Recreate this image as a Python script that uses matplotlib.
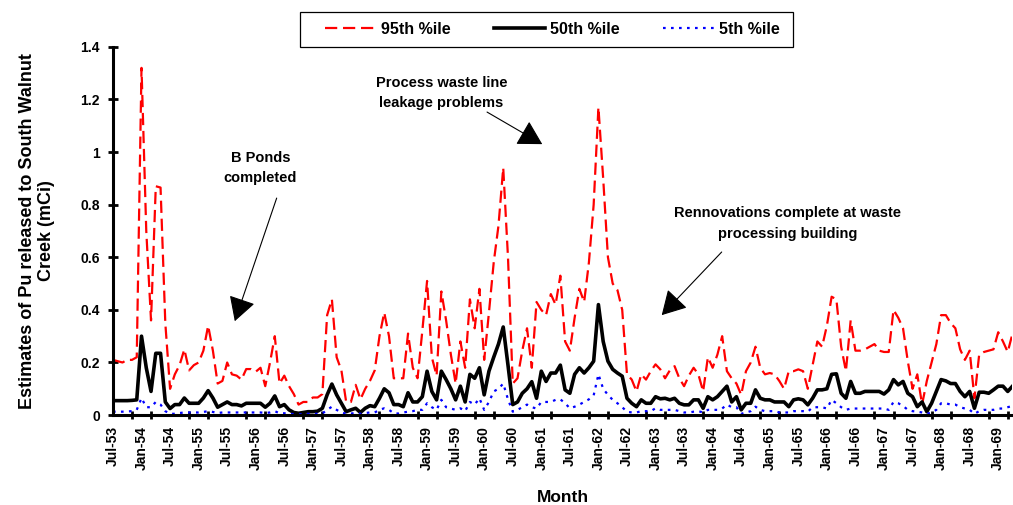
import matplotlib
matplotlib.use("Agg")
import matplotlib.pyplot as plt
from matplotlib.patches import Rectangle
import numpy as np
import pandas as pd

plt.rcParams['font.family'] = ['Liberation Sans', 'DejaVu Sans']
plt.rcParams['font.weight'] = 'bold'

# monthly estimates, Jul-53 .. Apr-69
p95 = [0.21, 0.205, 0.20, 0.21, 0.21, 0.22, 1.32, 0.70, 0.36, 0.87,
       0.865, 0.35, 0.10, 0.155, 0.19, 0.25, 0.17, 0.19, 0.20, 0.245,
       0.34, 0.245, 0.12, 0.13, 0.20, 0.155, 0.15, 0.135, 0.175, 0.175,
       0.165, 0.18, 0.11, 0.20, 0.30, 0.12, 0.15, 0.11, 0.08, 0.04,
       0.05, 0.05, 0.067, 0.067, 0.08, 0.38, 0.44, 0.22, 0.17, 0.05,
       0.05, 0.115, 0.06, 0.10, 0.13, 0.17, 0.30, 0.39, 0.30, 0.14,
       0.14, 0.14, 0.31, 0.18, 0.14, 0.32, 0.51, 0.22, 0.15, 0.47,
       0.36, 0.23, 0.12, 0.28, 0.18, 0.44, 0.33, 0.48, 0.21, 0.39,
       0.58, 0.72, 0.94, 0.60, 0.12, 0.14, 0.245, 0.33, 0.18, 0.43,
       0.40, 0.38, 0.46, 0.42, 0.53, 0.28, 0.245, 0.37, 0.48, 0.43,
       0.58, 0.80, 1.17, 0.90, 0.60, 0.50, 0.475, 0.40, 0.155, 0.135,
       0.09, 0.155, 0.135, 0.167, 0.193, 0.174, 0.14, 0.17, 0.186, 0.14,
       0.11, 0.15, 0.18, 0.155, 0.09, 0.22, 0.18, 0.23, 0.30, 0.167,
       0.14, 0.12, 0.077, 0.167, 0.20, 0.26, 0.18, 0.155, 0.16, 0.155,
       0.13, 0.10, 0.167, 0.167, 0.174, 0.167, 0.10, 0.19, 0.28, 0.26,
       0.34, 0.45, 0.44, 0.26, 0.167, 0.36, 0.245, 0.245, 0.25, 0.26,
       0.27, 0.245, 0.24, 0.24, 0.40, 0.37, 0.33, 0.205, 0.10, 0.155,
       0.04, 0.13, 0.20, 0.27, 0.38, 0.38, 0.35, 0.33, 0.25, 0.21,
       0.245, 0.064, 0.23, 0.24, 0.245, 0.25, 0.315, 0.28, 0.24, 0.31]

p50 = [0.055, 0.055, 0.055, 0.055, 0.056, 0.058, 0.30, 0.18, 0.09, 0.235,
       0.235, 0.05, 0.025, 0.04, 0.04, 0.065, 0.045, 0.045, 0.045, 0.065,
       0.093, 0.065, 0.03, 0.04, 0.05, 0.04, 0.04, 0.035, 0.045, 0.045,
       0.045, 0.045, 0.03, 0.045, 0.073, 0.032, 0.04, 0.02, 0.01, 0.007,
       0.01, 0.013, 0.013, 0.015, 0.026, 0.077, 0.118, 0.077, 0.045, 0.013,
       0.02, 0.026, 0.01, 0.026, 0.036, 0.032, 0.064, 0.10, 0.085, 0.04,
       0.04, 0.032, 0.085, 0.05, 0.05, 0.07, 0.167, 0.09, 0.058, 0.167,
       0.135, 0.10, 0.058, 0.11, 0.05, 0.155, 0.14, 0.18, 0.077, 0.167,
       0.22, 0.27, 0.335, 0.19, 0.04, 0.05, 0.083, 0.10, 0.127, 0.064,
       0.167, 0.128, 0.16, 0.16, 0.19, 0.096, 0.083, 0.155, 0.18, 0.16,
       0.18, 0.205, 0.42, 0.28, 0.205, 0.174, 0.16, 0.148, 0.064, 0.045,
       0.032, 0.058, 0.045, 0.045, 0.07, 0.062, 0.064, 0.058, 0.064, 0.045,
       0.039, 0.039, 0.058, 0.058, 0.026, 0.07, 0.058, 0.07, 0.09, 0.11,
       0.05, 0.07, 0.02, 0.045, 0.045, 0.096, 0.064, 0.058, 0.058, 0.05,
       0.05, 0.05, 0.032, 0.058, 0.062, 0.058, 0.039, 0.064, 0.096, 0.096,
       0.10, 0.155, 0.157, 0.083, 0.064, 0.128, 0.083, 0.083, 0.09, 0.09,
       0.09, 0.09, 0.08, 0.096, 0.135, 0.115, 0.128, 0.083, 0.07, 0.032,
       0.05, 0.013, 0.045, 0.09, 0.135, 0.13, 0.12, 0.12, 0.09, 0.07,
       0.09, 0.026, 0.087, 0.087, 0.083, 0.096, 0.11, 0.11, 0.09, 0.11]

p5 = [0.013, 0.013, 0.013, 0.014, 0.015, 0.02, 0.065, 0.03, 0.03, 0.05,
      0.04, 0.015, 0.005, 0.005, 0.008, 0.01, 0.01, 0.01, 0.01, 0.012,
      0.015, 0.012, 0.008, 0.01, 0.01, 0.01, 0.01, 0.01, 0.01, 0.01,
      0.01, 0.01, 0.008, 0.01, 0.015, 0.007, 0.007, 0.005, 0.004, 0.003,
      0.004, 0.005, 0.005, 0.005, 0.006, 0.02, 0.032, 0.02, 0.01, 0.005,
      0.006, 0.008, 0.005, 0.008, 0.01, 0.01, 0.02, 0.026, 0.02, 0.007,
      0.006, 0.01, 0.013, 0.015, 0.02, 0.02, 0.045, 0.03, 0.02, 0.058,
      0.03, 0.025, 0.02, 0.026, 0.015, 0.05, 0.04, 0.064, 0.02, 0.05,
      0.09, 0.10, 0.12, 0.06, 0.013, 0.02, 0.03, 0.04, 0.03, 0.025,
      0.05, 0.05, 0.05, 0.058, 0.06, 0.045, 0.026, 0.032, 0.04, 0.05,
      0.06, 0.075, 0.155, 0.10, 0.077, 0.058, 0.045, 0.03, 0.013, 0.01,
      0.01, 0.015, 0.015, 0.015, 0.026, 0.02, 0.02, 0.02, 0.02, 0.015,
      0.01, 0.01, 0.013, 0.015, 0.01, 0.02, 0.02, 0.02, 0.025, 0.04,
      0.03, 0.03, 0.005, 0.01, 0.015, 0.032, 0.02, 0.015, 0.015, 0.015,
      0.01, 0.01, 0.01, 0.015, 0.015, 0.015, 0.013, 0.03, 0.03, 0.03,
      0.025, 0.058, 0.045, 0.03, 0.02, 0.025, 0.025, 0.025, 0.025, 0.025,
      0.025, 0.025, 0.025, 0.02, 0.05, 0.045, 0.035, 0.02, 0.015, 0.013,
      0.01, 0.005, 0.01, 0.02, 0.045, 0.045, 0.04, 0.04, 0.03, 0.025,
      0.02, 0.005, 0.015, 0.02, 0.02, 0.02, 0.025, 0.025, 0.03, 0.035]

months = pd.date_range('1953-07-01', periods=len(p95), freq='MS')
month_labels = [d.strftime('%b-%y') for d in months]
x = np.arange(len(p95))

fig = plt.figure(figsize=(10.13, 5.05), dpi=100)
ax = fig.add_axes([0.1115, 0.178, 0.888, 0.7293])

ax.plot(x, p95, color='#ff0000', lw=1.6, dashes=(5.5, 2.6), label='95th %ile')
ax.plot(x, p50, color='black', lw=2.6, label='50th %ile')
ax.plot(x, p5, color='#0000ff', lw=1.6, dashes=(1.2, 2.4), label='5th %ile')

ax.set_xlim(0, len(p95) - 1)
ax.set_ylim(0, 1.4)
ax.set_yticks(np.arange(0, 1.41, 0.2))
ax.set_yticklabels(['0', '0.2', '0.4', '0.6', '0.8', '1', '1.2', '1.4'], fontsize=10, fontweight='bold')

# labels every 6 months, tick marks every 4 months
ax.set_xticks(x[::6])
ax.set_xticklabels(month_labels[::6], rotation=90, fontsize=10, fontweight='bold')
ax.set_xticks(x[::4], minor=True)
ax.tick_params(axis='x', which='major', length=0, pad=8)
ax.tick_params(axis='x', which='minor', length=6, width=2, direction='inout')
ax.tick_params(axis='y', length=7, width=2, direction='inout', pad=6)

for s in ['top', 'right']:
    ax.spines[s].set_visible(False)
for s in ['left', 'bottom']:
    ax.spines[s].set_linewidth(2.2)

ax.set_ylabel('Estimates of Pu released to South Walnut\nCreek (mCi)', fontsize=13,
              fontweight='bold', labelpad=18)
ax.set_xlabel('Month', fontsize=12.5, fontweight='bold', labelpad=14)

# legend box drawn separately so the padding can match
fig.patches.append(Rectangle((300 / 1013, 1 - 47 / 505), 493 / 1013, 35 / 505,
                             transform=fig.transFigure, facecolor='white',
                             edgecolor='black', lw=0.9, zorder=1))
leg = fig.legend(loc='center', bbox_to_anchor=(325 / 1013, 1 - 47 / 505, 455 / 1013, 35 / 505),
                 ncol=3, mode='expand', frameon=False,
                 prop={'size': 11.5, 'weight': 'bold'}, handlelength=3.2,
                 borderaxespad=0, borderpad=0, handletextpad=0.3)
leg.set_zorder(2)

arrow = dict(arrowstyle='-|>,head_length=1.5,head_width=0.85', color='black', lw=0.8,
             shrinkA=0, shrinkB=0)
txt = dict(ha='center', va='center', fontsize=10.5, fontweight='bold', linespacing=1.6)
ax.text(31, 0.94, 'B Ponds\ncompleted', **txt)
ax.annotate('', xy=(25.6, 0.357), xytext=(34.4, 0.825), arrowprops=arrow)
ax.text(69, 1.225, 'Process waste line\nleakage problems', **txt)
ax.annotate('', xy=(90.2, 1.03), xytext=(78.6, 1.152), arrowprops=arrow)
ax.text(141.8, 0.728, 'Rennovations complete at waste\nprocessing building', **txt)
ax.annotate('', xy=(115.3, 0.38), xytext=(127.9, 0.62), arrowprops=arrow)

fig.savefig('out.png', dpi=100)
